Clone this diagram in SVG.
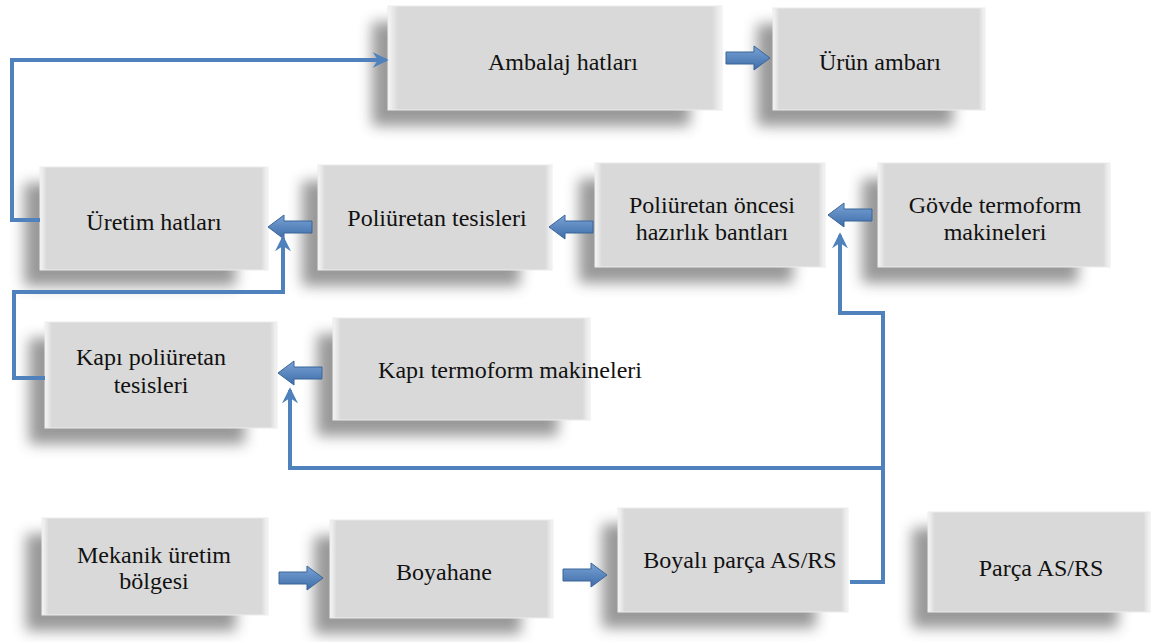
<svg xmlns="http://www.w3.org/2000/svg" xmlns:xlink="http://www.w3.org/1999/xlink" width="1162" height="642" viewBox="0 0 1162 642">
<style>
.box{fill:url(#boxg);stroke:#ececec;stroke-width:1}
.shadow{fill:#555;opacity:.6;filter:url(#blur)}
.lbl{font-family:'Liberation Serif','Times New Roman','DejaVu Serif',serif;font-size:24px;fill:#111;text-anchor:middle}
.conn{fill:none;stroke:#4f81bd;stroke-width:4;stroke-linejoin:miter}
.barrow{fill:url(#arrg);stroke:#3a6597;stroke-width:1}
</style>
<defs>
<linearGradient id="boxg" x1="0" y1="0" x2="1" y2="0">
<stop offset="0" stop-color="#f6f6f6"/>
<stop offset="0.03" stop-color="#d9d9d9"/>
<stop offset="0.97" stop-color="#d9d9d9"/>
<stop offset="1" stop-color="#f6f6f6"/>
</linearGradient>
<linearGradient id="arrg" x1="0" y1="0" x2="0" y2="1">
<stop offset="0" stop-color="#7aa3d6"/>
<stop offset="1" stop-color="#3d6ca8"/>
</linearGradient>
<filter id="blur" x="-20%" y="-20%" width="140%" height="140%"><feGaussianBlur stdDeviation="7"/></filter>
<marker id="ah" viewBox="0 0 12 12" refX="10" refY="6" markerWidth="16" markerHeight="16" markerUnits="userSpaceOnUse" orient="auto">
<path d="M0,0 L12,6 L0,12 L4,6 Z" fill="#4f81bd"/>
</marker>
<path id="ba" d="M0,-6 H28 V-12 L44,0 L28,12 V6 H0 Z"/>
</defs>

<g id="n-ambalaj">
<rect class="shadow" x="372" y="22" width="318" height="104"/>
<rect class="box" x="388" y="6" width="334" height="104"/>
<text class="lbl" x="563" y="70">Ambalaj hatları</text>
</g>
<g id="n-urun">
<rect class="shadow" x="757" y="24" width="196" height="102"/>
<rect class="box" x="773" y="8" width="212" height="102"/>
<text class="lbl" x="880" y="70">Ürün ambarı</text>
</g>
<g id="n-uretim">
<rect class="shadow" x="24" y="183" width="212" height="103"/>
<rect class="box" x="40" y="167" width="228" height="103"/>
<text class="lbl" x="154" y="230">Üretim hatları</text>
</g>
<g id="n-poli">
<rect class="shadow" x="302" y="181" width="218" height="105"/>
<rect class="box" x="318" y="165" width="234" height="105"/>
<text class="lbl" x="437" y="226">Poliüretan tesisleri</text>
</g>
<g id="n-polionc">
<rect class="shadow" x="579" y="179" width="214" height="104"/>
<rect class="box" x="595" y="163" width="230" height="104"/>
<text class="lbl" x="712" y="213">Poliüretan öncesi</text>
<text class="lbl" x="712" y="240">hazırlık bantları</text>
</g>
<g id="n-govde">
<rect class="shadow" x="862" y="179" width="216" height="104"/>
<rect class="box" x="878" y="163" width="232" height="104"/>
<text class="lbl" x="995" y="213">Gövde termoform</text>
<text class="lbl" x="995" y="240">makineleri</text>
</g>
<g id="n-kapipoli">
<rect class="shadow" x="29" y="338" width="216" height="106"/>
<rect class="box" x="45" y="322" width="232" height="106"/>
<text class="lbl" x="151" y="365">Kapı poliüretan</text>
<text class="lbl" x="151" y="393">tesisleri</text>
</g>
<g id="n-kapiterm">
<rect class="shadow" x="317" y="334" width="241" height="102"/>
<rect class="box" x="333" y="318" width="257" height="102"/>
<text class="lbl" x="510" y="378">Kapı termoform makineleri</text>
</g>
<g id="n-mekanik">
<rect class="shadow" x="26" y="534" width="210" height="97"/>
<rect class="box" x="42" y="518" width="226" height="97"/>
<text class="lbl" x="154" y="563">Mekanik üretim</text>
<text class="lbl" x="154" y="589">bölgesi</text>
</g>
<g id="n-boyahane">
<rect class="shadow" x="314" y="536" width="207" height="98"/>
<rect class="box" x="330" y="520" width="223" height="98"/>
<text class="lbl" x="444" y="580">Boyahane</text>
</g>
<g id="n-boyali">
<rect class="shadow" x="602" y="524" width="214" height="104"/>
<rect class="box" x="618" y="508" width="230" height="104"/>
<text class="lbl" x="740" y="568">Boyalı parça AS/RS</text>
</g>
<g id="n-parca">
<rect class="shadow" x="912" y="528" width="206" height="100"/>
<rect class="box" x="928" y="512" width="222" height="100"/>
<text class="lbl" x="1041" y="576">Parça AS/RS</text>
</g>

<g id="connectors">
<use href="#ba" class="barrow" transform="translate(726,58)"/>
<use href="#ba" class="barrow" transform="translate(312,227) scale(-1,1)"/>
<use href="#ba" class="barrow" transform="translate(593,227) scale(-1,1)"/>
<use href="#ba" class="barrow" transform="translate(872,215) scale(-1,1)"/>
<use href="#ba" class="barrow" transform="translate(322,373) scale(-1,1)"/>
<use href="#ba" class="barrow" transform="translate(279,578)"/>
<use href="#ba" class="barrow" transform="translate(563,575)"/>
<path class="conn" d="M40,220 H12 V60 H386" marker-end="url(#ah)"/>
<path class="conn" d="M45,378 H14 V292 H283 V238" marker-end="url(#ah)"/>
<path class="conn" d="M850,582 H883 V313 H840 V235" marker-end="url(#ah)"/>
<path class="conn" d="M883,468 H290 V390" marker-end="url(#ah)"/>
</g>
</svg>
